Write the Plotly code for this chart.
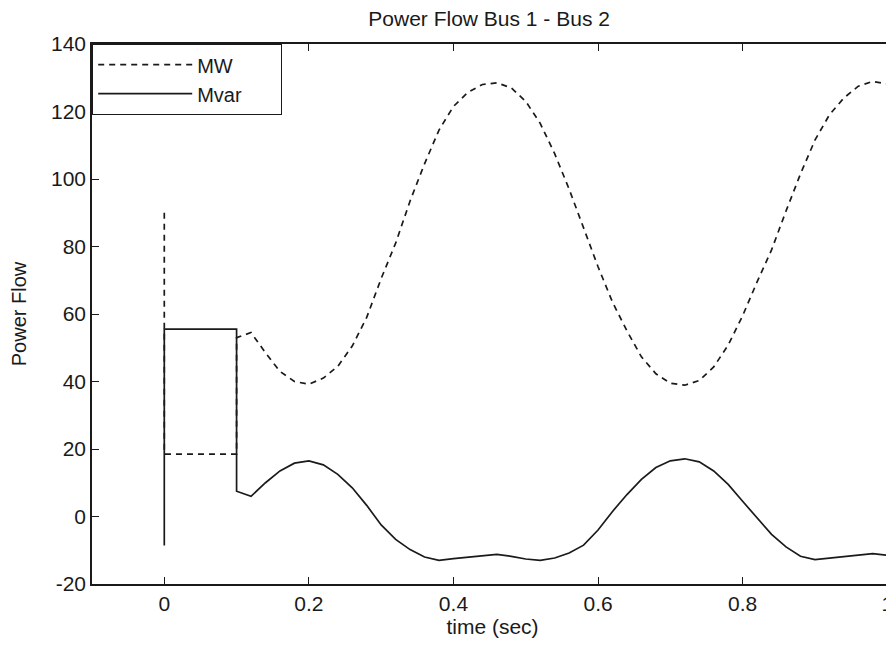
import plotly.graph_objects as go

# MW (dashed) series
mw_t = [0, 0, 0.1, 0.1, 0.12, 0.14, 0.16, 0.18, 0.20, 0.22, 0.24, 0.26, 0.28, 0.30,
        0.32, 0.34, 0.36, 0.38, 0.40, 0.42, 0.44, 0.46, 0.48, 0.50, 0.52, 0.54,
        0.56, 0.58, 0.60, 0.62, 0.64, 0.66, 0.68, 0.70, 0.72, 0.74, 0.76, 0.78,
        0.80, 0.82, 0.84, 0.86, 0.88, 0.90, 0.92, 0.94, 0.96, 0.98, 1.00]
mw_v = [90, 18.5, 18.5, 53, 54.5, 48.5, 43, 40, 39.2, 41, 44.5, 50.5, 59, 70.5,
        81, 93.5, 104.5, 114.5, 121.5, 125.7, 128, 128.5, 127, 123, 116.5, 107.5,
        97, 85.5, 74, 63.5, 55, 47.3, 42.3, 39.5, 38.9, 40.3, 44.3, 50.8,
        59.5, 69.5, 79, 90.5, 101.5, 111.5, 119, 124, 127.5, 128.9, 128.2]

# Mvar (solid) series
mvar_t = [0, 0, 0.1, 0.1, 0.12, 0.14, 0.16, 0.18, 0.20, 0.22, 0.24, 0.26, 0.28, 0.30,
          0.32, 0.34, 0.36, 0.38, 0.40, 0.42, 0.44, 0.46, 0.48, 0.50, 0.52, 0.54,
          0.56, 0.58, 0.60, 0.62, 0.64, 0.66, 0.68, 0.70, 0.72, 0.74, 0.76, 0.78,
          0.80, 0.82, 0.84, 0.86, 0.88, 0.90, 0.92, 0.94, 0.96, 0.98, 1.00]
mvar_v = [-8.6, 55.5, 55.5, 7.5, 6.0, 10, 13.5, 15.8, 16.5, 15.3, 12.5, 8.5, 3.3, -2.5,
          -6.8, -9.8, -12, -13, -12.5, -12, -11.6, -11.2, -11.8, -12.6, -13, -12.3,
          -10.8, -8.5, -4, 1.5, 6.5, 11, 14.5, 16.5, 17.1, 16.2, 13.5, 9.5,
          4.5, -0.5, -5.3, -9, -11.8, -12.8, -12.3, -11.8, -11.4, -11, -11.5]

x_ticks = [0, 0.2, 0.4, 0.6, 0.8, 1]
x_tick_labels = ["0", "0.2", "0.4", "0.6", "0.8", "1"]
y_ticks = [-20, 0, 20, 40, 60, 80, 100, 120, 140]
y_tick_labels = ["-20", "0", "20", "40", "60", "80", "100", "120", "140"]

FONT = "Liberation Sans, Arial, sans-serif"
INK = "#1a1a1a"
PAD = "\u00a0" * 6

fig = go.Figure()
fig.add_trace(go.Scatter(x=mw_t, y=mw_v, mode="lines", name="MW" + PAD,
                         line=dict(color=INK, width=1.7, dash="6px,5px")))
fig.add_trace(go.Scatter(x=mvar_t, y=mvar_v, mode="lines", name="Mvar" + PAD,
                         line=dict(color=INK, width=1.7)))

axis_common = dict(showgrid=False, zeroline=False, showline=True, linecolor=INK,
                   linewidth=1.6, mirror="ticks", ticks="inside", ticklen=7,
                   tickwidth=1.3, tickcolor=INK, automargin=False,
                   ticklabeloverflow="allow",
                   tickfont=dict(family=FONT, size=21, color=INK))

fig.update_xaxes(range=[-0.1, 1.008], tickvals=x_ticks, ticktext=x_tick_labels,
                 title=dict(text="time (sec)", font=dict(family=FONT, size=21, color=INK),
                            standoff=4),
                 **axis_common)
fig.update_yaxes(range=[-20, 140], tickvals=y_ticks, ticktext=y_tick_labels,
                 title=dict(text="Power Flow", font=dict(family=FONT, size=20, color=INK),
                            standoff=22),
                 **axis_common)

# the page adds an 8px body margin, so the figure is sized to fit the window
fig.update_layout(
    width=886, height=632,
    margin=dict(l=84, r=1, t=36, b=56),
    paper_bgcolor="white", plot_bgcolor="white",
    title=dict(text="Power Flow Bus 1 - Bus 2", x=0.543, xanchor="center",
               y=1 - 11 / 632, yanchor="middle",
               font=dict(family=FONT, size=21, color=INK)),
    legend=dict(x=0, y=1, xanchor="left", yanchor="top",
                bordercolor=INK, borderwidth=1.2, bgcolor="white",
                font=dict(family=FONT, size=20, color=INK),
                itemwidth=94, tracegroupgap=0,
                itemclick=False),
    showlegend=True,
)

fig.write_html("out.html")
